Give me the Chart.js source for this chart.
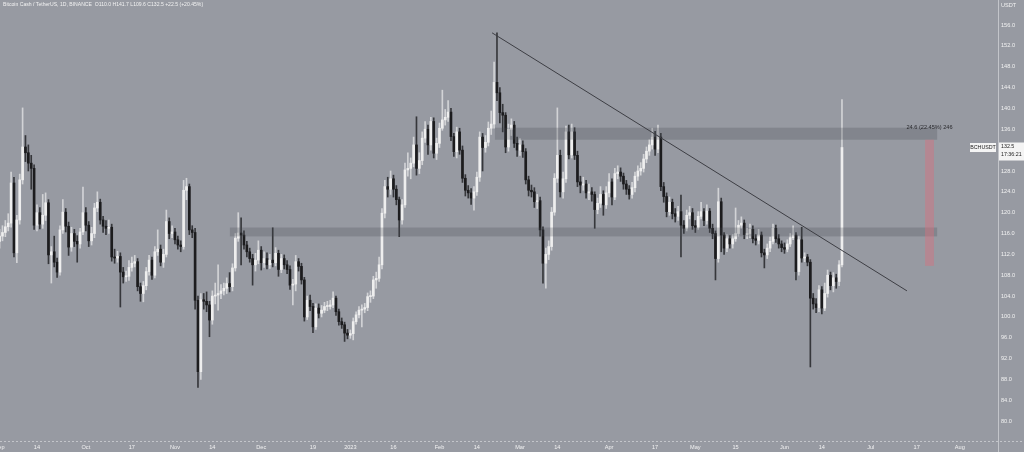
<!DOCTYPE html>
<html>
<head>
<meta charset="utf-8">
<script src="https://cdn.jsdelivr.net/npm/chart.js@4.4.0/dist/chart.umd.min.js"></script>
<style>
  html, body { margin: 0; padding: 0; background: #979aa2; }
  #wrap { width: 1024px; height: 452px; }
</style>
</head>
<body>
<div id="wrap"><canvas id="grafica" width="1024" height="452"></canvas></div>
<script>
// BCHUSDT daily candles, day 0 = 2022-09-01
const closes = [
  115.5, 116.2, 117.3, 118.0, 125.7, 112.3, 118.6, 126.3, 132.6, 131.5,
  129.5, 128.5, 117.6, 120.0, 117.8, 119.5, 121.9, 111.9, 112.5, 110.5,
  108.6, 116.7, 120.1, 117.4, 113.4, 116.0, 114.5, 114.0, 116.3, 120.0,
  117.6, 114.6, 116.0, 120.9, 122.0, 118.6, 117.4, 117.0, 117.2, 111.5,
  111.3, 111.6, 108.6, 107.7, 107.8, 109.5, 110.3, 110.6, 105.8, 104.5,
  106.0, 108.7, 110.9, 108.0, 112.5, 113.0, 110.5, 112.0, 118.3, 116.0,
  116.3, 114.8, 113.8, 113.5, 124.3, 125.0, 116.7, 116.2, 103.2, 89.5,
  103.3, 103.0, 102.3, 99.4, 104.0, 104.2, 104.5, 105.0, 105.5, 106.4,
  105.8, 109.4, 115.1, 116.1, 115.7, 113.8, 112.5, 111.2, 110.0, 110.9,
  112.8, 110.4, 111.2, 110.0, 110.9, 110.4, 112.2, 109.1, 111.2, 110.0,
  109.1, 106.1, 106.3, 110.6, 109.7, 107.1, 100.0, 103.2, 102.0, 98.1,
  101.7, 100.7, 101.3, 102.0, 102.0, 102.3, 103.6, 101.0, 99.1, 98.5,
  96.9, 96.5, 96.8, 99.1, 100.4, 101.3, 101.5, 101.8, 103.9, 104.0,
  107.1, 107.4, 110.0, 119.9, 125.0, 124.5, 126.5, 124.5, 122.5, 118.6,
  121.5, 128.2, 128.5, 129.5, 133.0, 128.5, 130.0, 134.3, 136.0, 133.0,
  137.5, 131.4, 133.3, 136.2, 137.8, 138.3, 139.3, 134.6, 131.7, 135.5,
  132.0, 126.6, 124.3, 123.8, 122.8, 124.0, 126.8, 134.5, 132.5, 133.5,
  136.2, 137.0, 145.0, 143.0, 139.2, 138.7, 132.6, 136.0, 136.8, 133.3,
  132.0, 133.0, 131.7, 126.3, 124.3, 124.0, 122.1, 122.3, 116.7, 110.3,
  112.0, 113.5, 120.1, 126.6, 131.0, 124.0, 126.5, 135.5, 131.1, 135.5,
  131.0, 125.9, 125.3, 125.5, 123.8, 124.0, 123.5, 120.6, 121.8, 123.5,
  121.5, 123.8, 125.9, 123.0, 127.5, 127.8, 127.0, 125.5, 124.5, 123.5,
  124.8, 127.0, 128.0, 128.5, 130.3, 131.8, 133.0, 134.5, 132.2, 134.5,
  125.0, 123.1, 120.2, 122.0, 119.8, 119.3, 120.2, 117.6, 117.0, 119.5,
  120.0, 117.5, 117.2, 119.3, 120.2, 118.5, 120.3, 117.0, 116.0, 111.2,
  122.1, 115.7, 113.2, 115.0, 114.0, 115.0, 116.0, 117.6, 118.0, 115.8,
  116.0, 116.8, 115.0, 114.7, 115.7, 112.3, 111.9, 113.2, 114.5, 117.0,
  115.0, 114.0, 113.3, 113.0, 114.0, 115.2, 115.7, 108.7, 114.8, 111.3,
  111.5, 110.5, 103.6, 102.5, 101.8, 105.2, 101.7, 104.5, 108.0, 106.0,
  107.5, 106.8, 110.0, 132.5
];
const highs = [
  116.8, 117.5, 118.5, 119.8, 127.8, 126.8, 119.5, 127.4, 140.1, 134.8,
  133.0, 131.0, 129.2, 121.5, 121.0, 123.5, 123.8, 122.5, 113.5, 115.5,
  111.3, 117.5, 122.5, 120.8, 118.2, 117.2, 116.8, 115.6, 117.0, 124.9,
  121.0, 118.3, 117.2, 121.8, 124.0, 122.6, 119.3, 118.5, 118.6, 117.8,
  113.0, 112.6, 112.3, 109.5, 108.8, 110.8, 111.5, 111.8, 111.2, 106.5,
  106.8, 109.5, 111.8, 111.5, 113.5, 116.7, 113.8, 113.0, 120.5, 119.0,
  117.5, 117.0, 115.5, 114.6, 126.2, 126.6, 125.5, 117.5, 117.0, 104.0,
  104.5, 104.5, 104.8, 103.0, 105.0, 106.5, 110.0, 106.2, 106.5, 107.5,
  108.5, 110.2, 116.0, 120.0, 119.0, 116.5, 114.5, 113.2, 112.0, 112.2,
  114.6, 113.5, 112.5, 112.3, 112.0, 117.1, 113.3, 112.8, 112.0, 111.9,
  110.8, 109.8, 107.2, 111.8, 111.2, 110.3, 107.6, 104.0, 104.2, 102.6,
  102.5, 102.5, 102.2, 102.8, 103.0, 103.2, 104.8, 104.0, 101.5, 99.8,
  99.0, 97.6, 97.5, 99.8, 101.0, 102.0, 102.3, 102.6, 104.6, 105.0,
  107.8, 108.6, 111.5, 120.8, 126.2, 126.8, 128.0, 127.2, 125.2, 123.0,
  122.5, 129.5, 131.5, 130.5, 134.5, 138.4, 131.5, 135.5, 137.5, 136.8,
  138.3, 138.2, 134.3, 137.2, 143.5, 139.8, 141.5, 140.0, 135.2, 136.4,
  136.2, 132.8, 127.3, 125.2, 124.6, 125.0, 127.8, 135.5, 135.2, 134.8,
  137.4, 139.5, 148.9, 154.5, 144.0, 140.8, 139.2, 137.0, 138.0, 137.5,
  134.5, 134.2, 133.8, 132.3, 127.0, 125.3, 124.8, 123.5, 123.0, 117.3,
  113.2, 114.6, 121.0, 127.5, 140.1, 132.0, 127.8, 136.6, 136.8, 137.0,
  136.3, 131.8, 127.0, 126.8, 126.2, 125.5, 124.8, 124.0, 122.8, 125.0,
  124.2, 125.0, 127.5, 126.5, 128.5, 129.0, 128.6, 127.6, 126.2, 125.2,
  125.8, 127.8, 129.0, 129.6, 131.2, 132.6, 134.0, 136.2, 135.6, 136.8,
  135.2, 125.8, 123.8, 123.0, 122.6, 120.8, 121.2, 123.4, 118.5, 120.5,
  121.2, 120.8, 118.5, 120.2, 122.0, 120.8, 121.5, 120.8, 117.8, 116.5,
  124.7, 122.8, 116.2, 115.8, 115.6, 115.8, 120.9, 118.5, 119.2, 118.6,
  117.0, 117.8, 117.5, 115.8, 116.8, 116.3, 113.0, 114.0, 115.3, 117.8,
  117.6, 115.8, 114.6, 114.2, 114.8, 116.0, 117.5, 116.2, 115.5, 117.2,
  112.3, 112.0, 111.0, 104.5, 103.5, 106.0, 105.8, 106.5, 109.0, 108.6,
  108.5, 108.2, 110.8, 141.7
];
const lows = [
  113.2, 114.6, 115.4, 116.5, 117.2, 111.5, 110.4, 117.8, 125.5, 129.8,
  128.0, 124.5, 116.8, 116.5, 116.9, 117.0, 118.5, 110.2, 106.5, 109.6,
  107.6, 108.0, 116.0, 116.3, 111.8, 112.6, 113.5, 110.5, 113.2, 115.8,
  116.5, 113.5, 113.8, 115.2, 120.2, 117.8, 116.2, 115.8, 116.0, 110.7,
  110.3, 110.5, 101.9, 106.5, 106.8, 107.0, 108.8, 109.6, 105.0, 103.0,
  102.9, 105.2, 108.0, 107.2, 107.5, 111.8, 109.8, 109.5, 111.5, 115.0,
  115.2, 114.0, 113.0, 112.5, 113.0, 122.5, 115.8, 115.2, 101.5, 86.5,
  88.0, 101.5, 101.0, 96.2, 98.6, 102.5, 101.3, 103.5, 104.2, 104.5,
  104.8, 105.0, 108.8, 114.5, 110.0, 113.0, 111.5, 110.5, 106.1, 108.8,
  110.2, 109.0, 109.5, 109.2, 109.3, 109.6, 109.8, 107.8, 108.5, 109.2,
  108.3, 105.3, 102.3, 105.0, 108.8, 106.3, 99.2, 99.5, 101.2, 97.0,
  97.6, 99.8, 100.0, 100.8, 101.2, 101.5, 101.8, 100.3, 98.4, 97.8,
  95.3, 95.8, 95.9, 95.6, 98.6, 99.8, 98.1, 100.8, 101.2, 102.8,
  103.5, 105.5, 106.8, 109.2, 119.0, 123.0, 123.5, 123.0, 121.5, 115.4,
  117.8, 121.0, 127.0, 126.5, 128.8, 127.2, 127.5, 129.2, 133.5, 131.2,
  132.0, 130.5, 130.2, 132.5, 135.8, 136.8, 137.5, 133.8, 130.8, 130.5,
  131.2, 125.8, 123.2, 122.8, 121.6, 120.5, 123.3, 126.0, 128.0, 131.6,
  132.8, 135.0, 136.2, 141.5, 137.2, 135.5, 131.5, 131.8, 134.8, 132.5,
  130.8, 131.0, 130.6, 125.5, 123.2, 123.0, 121.0, 120.8, 115.5, 106.5,
  105.5, 111.0, 112.8, 119.5, 125.8, 123.0, 122.8, 125.8, 130.3, 130.5,
  130.2, 125.0, 123.8, 124.3, 122.8, 122.5, 122.2, 117.0, 119.8, 121.0,
  119.5, 120.8, 123.0, 121.5, 122.5, 126.5, 126.0, 124.5, 123.5, 122.6,
  122.8, 124.0, 126.2, 127.2, 127.8, 129.6, 131.0, 132.2, 131.0, 131.5,
  124.2, 122.0, 119.2, 119.5, 118.8, 118.2, 118.5, 111.5, 116.0, 116.5,
  118.8, 116.8, 116.2, 116.8, 118.8, 117.5, 117.8, 116.2, 115.0, 107.1,
  110.5, 112.5, 112.0, 112.5, 113.2, 113.2, 114.5, 115.5, 117.0, 115.0,
  115.0, 115.2, 114.2, 113.8, 114.0, 111.5, 109.4, 111.2, 112.5, 114.0,
  114.3, 113.2, 112.5, 112.2, 112.5, 113.5, 114.8, 107.1, 108.0, 110.5,
  110.6, 109.8, 90.4, 101.5, 100.8, 101.0, 100.6, 101.2, 103.8, 105.2,
  104.8, 105.5, 106.0, 109.6
];
const firstOpen = 114.5;
// a daily crypto candle opens at the previous close
const opens = closes.map((c, i) => (i === 0 ? firstOpen : closes[i - 1]));
const days = closes.map((c, i) => i);

const tickDays = [0, 13, 30, 46, 61, 74, 91, 109, 122, 137, 153, 166, 181, 194, 212, 228, 242, 256, 273, 286, 303, 319, 334];
const tickLabels = ['Sep', '14', 'Oct', '17', 'Nov', '14', 'Dec', '19', '2023', '16', 'Feb', '14', 'Mar', '14', 'Apr', '17', 'May', '15', 'Jun', '14', 'Jul', '17', 'Aug'];
const priceTicks = [80, 84, 88, 92, 96, 100, 104, 108, 112, 116, 120, 124, 128, 132, 136, 140, 144, 148, 152, 156];

// drawings: [fromDay, toDay, low, high]
const zones = [[172.3, 326.1, 134.0, 136.3], [80.1, 326.1, 115.45, 117.15]];
const measureBox = [321.9, 325.0, 109.8, 134.0];
const measureText = '24.6 (22.45%) 246';
const trendLine = [[171.3, 154.5], [315.6, 105.0]];
const header = 'Bitcoin Cash / TetherUS, 1D, BINANCE  O110.0 H141.7 L109.6 C132.5 +22.5 (+20.45%)';

const bg = '#979aa2';
const upBody = '#eeeeee', downBody = '#1c1c1e';
const upWick = '#d2d3d6', downWick = '#36373b';
const font = '"Liberation Sans", Arial, sans-serif';
const isUp = i => closes[i] >= opens[i];

const drawings = {
    id: 'drawings',
    beforeDraw(chart) {
        const { ctx, width, height } = chart;
        ctx.save();
        ctx.fillStyle = bg;
        ctx.fillRect(0, 0, width, height);
        ctx.restore();
    },
    afterDatasetsDraw(chart) {
        const { ctx, scales: { x, y } } = chart;
        ctx.save();
        ctx.fillStyle = 'rgba(70,72,80,0.26)';
        zones.forEach(([d0, d1, lo, hi]) => {
            const x0 = x.getPixelForValue(d0), x1 = x.getPixelForValue(d1);
            const y0 = y.getPixelForValue(hi), y1 = y.getPixelForValue(lo);
            ctx.fillRect(x0, y0, x1 - x0, y1 - y0);
        });
        const [m0, m1, mlo, mhi] = measureBox;
        const mx0 = x.getPixelForValue(m0), mx1 = x.getPixelForValue(m1);
        ctx.fillStyle = 'rgba(214,112,126,0.45)';
        ctx.fillRect(mx0, y.getPixelForValue(mhi), mx1 - mx0, y.getPixelForValue(mlo) - y.getPixelForValue(mhi));

        ctx.strokeStyle = '#3d3e44';
        ctx.lineWidth = 1;
        ctx.beginPath();
        ctx.moveTo(x.getPixelForValue(trendLine[0][0]), y.getPixelForValue(trendLine[0][1]));
        ctx.lineTo(x.getPixelForValue(trendLine[1][0]), y.getPixelForValue(trendLine[1][1]));
        ctx.stroke();

        ctx.fillStyle = '#2a2a2e';
        ctx.font = '5.6px ' + font;
        ctx.textAlign = 'center';
        ctx.textBaseline = 'middle';
        ctx.fillText(measureText, (mx0 + mx1) / 2, y.getPixelForValue(zones[0][3]) - 0.5);
        ctx.restore();
    },
    afterDraw(chart) {
        const { ctx, chartArea, width, height, scales: { x, y } } = chart;
        ctx.save();
        // axis borders
        ctx.strokeStyle = '#c3c5ca';
        ctx.lineWidth = 1;
        ctx.beginPath();
        ctx.moveTo(chartArea.right + 0.5, 0);
        ctx.lineTo(chartArea.right + 0.5, height);
        ctx.stroke();
        ctx.setLineDash([2, 2]);
        ctx.beginPath();
        ctx.moveTo(0, chartArea.bottom + 0.5);
        ctx.lineTo(width, chartArea.bottom + 0.5);
        ctx.stroke();
        ctx.setLineDash([]);

        ctx.fillStyle = '#f2f2f2';
        ctx.font = '5.6px ' + font;
        ctx.textBaseline = 'middle';
        ctx.textAlign = 'left';
        priceTicks.forEach(v => ctx.fillText(v.toFixed(1), chartArea.right + 3, y.getPixelForValue(v)));
        ctx.fillText('USDT', chartArea.right + 3, 5);

        ctx.textAlign = 'center';
        tickDays.forEach((d, i) => ctx.fillText(tickLabels[i], x.getPixelForValue(d), chartArea.bottom + 6));

        ctx.textAlign = 'left';
        ctx.font = '5.1px ' + font;
        ctx.fillText(header, 3, 5);

        // last price labels
        const last = closes.length - 1;
        const py = y.getPixelForValue(closes[last]);
        ctx.fillStyle = '#f4f4f4';
        ctx.fillRect(970, py - 4.5, 26, 9);
        ctx.fillRect(chartArea.right + 1, py - 5, width - chartArea.right - 1, 18);
        ctx.fillStyle = '#1a1a1a';
        ctx.font = '5.3px ' + font;
        ctx.textAlign = 'center';
        ctx.fillText('BCHUSDT', 983, py);
        ctx.textAlign = 'left';
        ctx.fillText(closes[last].toFixed(1), chartArea.right + 3, py - 0.5);
        ctx.fillText('17:36:21', chartArea.right + 3, py + 7);
        ctx.restore();
    }
};

const graph = document.querySelector('#grafica');

const config = {
    type: 'bar',
    data: {
        datasets: [
            {
                label: 'wick',
                data: days.map((d, i) => ({ x: d, y: [lows[i], highs[i]] })),
                backgroundColor: ctx => (isUp(ctx.dataIndex) ? upWick : downWick),
                barThickness: 1,
                grouped: false,
                order: 2
            },
            {
                label: 'body',
                data: days.map((d, i) => ({ x: d, y: [opens[i], closes[i]] })),
                backgroundColor: ctx => (isUp(ctx.dataIndex) ? upBody : downBody),
                barThickness: 2,
                minBarLength: 1,
                grouped: false,
                order: 1
            }
        ]
    },
    options: {
        responsive: false,
        animation: false,
        events: [],
        layout: { padding: { left: 0, top: 0, right: 26, bottom: 11 } },
        plugins: { legend: { display: false }, tooltip: { enabled: false } },
        scales: {
            x: { type: 'linear', min: 0.139, max: 347.27, offset: false, display: false },
            y: { type: 'linear', min: 76.2, max: 160.8, display: false }
        }
    },
    plugins: [drawings]
};

const myChart = new Chart(graph, config);
</script>
</body>
</html>
